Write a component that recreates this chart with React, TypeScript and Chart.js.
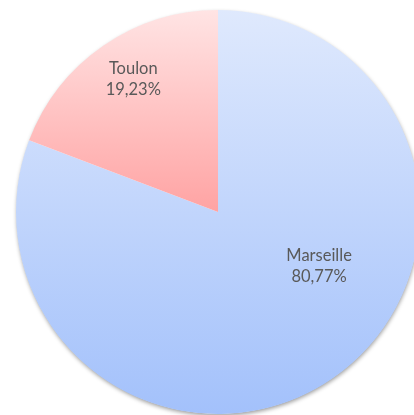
import React, { useEffect, useRef } from "react";
import { Chart, registerables } from "chart.js";

Chart.register(...registerables);

const categories = ["Marseille", "Toulon"];
const values = [80.77, 19.23];
const valueLabels = ["80,77%", "19,23%"];

const gradientStops: [string, string][] = [
  ["#dfe9fd", "#a3c1fb"],
  ["#ffe4e4", "#ffa3a3"],
];

const shadowPlugin = {
  id: "pieShadow",
  beforeDatasetsDraw(chart: any) {
    const arc = chart.getDatasetMeta(0).data[0];
    if (!arc) return;
    const ctx = chart.ctx;
    ctx.save();
    ctx.beginPath();
    ctx.arc(arc.x, arc.y, arc.outerRadius - 0.5, 0, Math.PI * 2);
    ctx.shadowColor = "rgba(0,0,0,0.4)";
    ctx.shadowBlur = 4;
    ctx.shadowOffsetY = 2;
    ctx.shadowOffsetX = 0.5;
    ctx.fillStyle = "#ffffff";
    ctx.fill();
    ctx.restore();
  },
};

const labelPlugin = {
  id: "pieLabels",
  afterDatasetsDraw(chart: any) {
    const meta = chart.getDatasetMeta(0);
    const ctx = chart.ctx;
    ctx.save();
    ctx.fillStyle = "#595959";
    ctx.font = "16.5px Lato";
    ctx.textAlign = "center";
    ctx.textBaseline = "middle";
    meta.data.forEach((arc: any, i: number) => {
      const R = arc.outerRadius;
      let ang: number;
      let frac: number;
      if (i === 0) {
        ang = arc.startAngle + (arc.endAngle - arc.startAngle) * 0.406;
        frac = 0.567;
      } else {
        ang = arc.startAngle + (arc.endAngle - arc.startAngle) * 0.53;
        frac = 0.78;
      }
      const x = arc.x + Math.cos(ang) * R * frac;
      const y = arc.y + Math.sin(ang) * R * frac;
      ctx.fillText(categories[i], x, y - 10.5);
      ctx.fillText(valueLabels[i], x, y + 11);
    });
    ctx.restore();
  },
};

export default function App() {
  const ref = useRef<HTMLCanvasElement | null>(null);
  useEffect(() => {
    document.body.style.margin = "0";
    if (!ref.current) return;
    const chart = new Chart(ref.current, {
      type: "pie",
      data: {
        labels: categories,
        datasets: [
          {
            data: values,
            borderWidth: 0,
            backgroundColor: (c: any) => {
              const ch = c.chart;
              const area = ch.chartArea;
              if (!area) return gradientStops[c.dataIndex][0];
              const cy = (area.top + area.bottom) / 2;
              const r = Math.min(area.right - area.left, area.bottom - area.top) / 2;
              const top = cy - r;
              const bottom = c.dataIndex === 0 ? cy + r : cy;
              const g = ch.ctx.createLinearGradient(0, top, 0, bottom);
              g.addColorStop(0, gradientStops[c.dataIndex][0]);
              g.addColorStop(1, gradientStops[c.dataIndex][1]);
              return g;
            },
          },
        ],
      },
      options: {
        animation: false,
        responsive: false,
        maintainAspectRatio: false,
        layout: { padding: 10 },
        plugins: {
          legend: { display: false },
          tooltip: { enabled: false },
        },
      },
      plugins: [shadowPlugin, labelPlugin],
    });
    return () => chart.destroy();
  }, []);
  return (
    <div
      style={{
        position: "fixed",
        left: 0,
        top: 0,
        width: 414,
        height: 415,
        overflow: "hidden",
        background: "#ffffff",
      }}
    >
      <canvas ref={ref} width={436} height={424} style={{ width: 436, height: 424, display: "block" }} />
    </div>
  );
}
